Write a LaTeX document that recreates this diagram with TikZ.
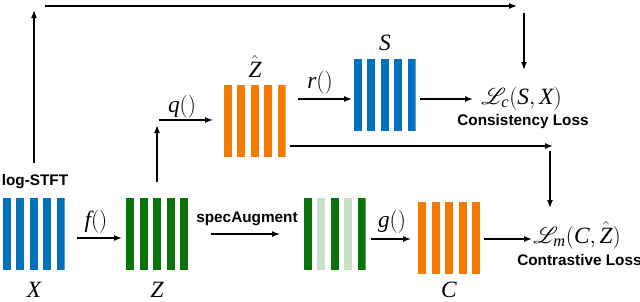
\documentclass[tikz,border=0pt]{standalone}
\usepackage{mathrsfs}
\usepackage{fontspec}
\setmainfont{Liberation Serif}
\newfontfamily\labelsans{Liberation Sans}
\usetikzlibrary{arrows.meta}
\definecolor{bankblue}{RGB}{0,114,188}
\definecolor{bankgreen}{RGB}{10,115,10}
\definecolor{lightgreen}{RGB}{200,224,200}
\definecolor{bankorange}{RGB}{245,122,0}
\tikzset{
  bank/.style 2 args={inner sep=0pt, outer sep=0pt, minimum width=46.5pt, minimum height=54pt,
    path picture={\foreach \i/\c in {0/#1,1/#2,2/#1,3/#2,4/#1}
      \fill[\c] ([xshift=\i*10.125pt]path picture bounding box.south west) rectangle ++(6pt,54pt);}},
  mlab/.style={font=\fontsize{17.5}{20}\selectfont, inner sep=0pt, anchor=base},
  slab/.style={font=\labelsans\bfseries\fontsize{11.5}{13}\selectfont, inner sep=0pt},
  arr/.style={line width=1.1pt, -{Latex[length=6pt,width=4.5pt]}}
}
\begin{document}
\begin{tikzpicture}[x=0.75pt,y=-0.75pt]
\useasboundingbox (0,0) rectangle (640,301);
% banks
\node[bank={bankblue}{bankblue}] (X) at (33.5,234) {};
\node[bank={bankgreen}{bankgreen}] (Z) at (157,234) {};
\node[bank={bankgreen}{lightgreen}] (A) at (334.5,234) {};
\node[bank={bankorange}{bankorange}] (C) at (449,238) {};
\node[bank={bankorange}{bankorange}] (Zh) at (254.5,120.5) {};
\node[bank={bankblue}{bankblue}] (S) at (384.5,95) {};
% labels
\node[mlab] (Xl) at (34,297) {$\mathit{X}$};
\node[mlab] (Zl) at (157,297) {$\mathit{Z}$};
\node[mlab] (Cl) at (449,297) {$\mathit{C}$};
\node[mlab] (Zhl) at (255,77) {$\hat{\mathit{Z}}$};
\node[mlab] (Sl) at (385,50) {$\mathit{S}$};
\node[mlab] (fl) at (96,227) {$\mathit{f}()$};
\node[mlab] (ql) at (182,112) {$\mathit{q}()$};
\node[mlab] (rl) at (320,88) {$\mathit{r}()$};
\node[mlab] (gl) at (392,227) {$\mathit{g}()$};
\node[slab] (stft) at (35,182) {log-STFT};
\node[slab] (spec) at (247,219) {specAugment};
\node[mlab, anchor=base west] (Lc) at (481,104) {$\mathscr{L}_{\mathit{c}}(\mathit{S},\mathit{X})$};
\node[slab] (cons) at (523,122) {Consistency Loss};
\node[mlab, anchor=base west] (Lm) at (533,243) {$\mathscr{L}_{\mathit{m}}(\mathit{C},\hat{\mathit{Z}})$};
\node[slab, anchor=west] (contr) at (517,260) {Contrastive Loss};
% coordinates
\coordinate (a1) at (34,163); \coordinate (a2) at (34,10);
\coordinate (t1) at (45,6); \coordinate (t2) at (517,6);
\coordinate (d1) at (524,13); \coordinate (d2) at (524,70);
\coordinate (z1) at (157,182); \coordinate (z2) at (157,125);
\coordinate (q1) at (159,120); \coordinate (q2) at (213,120);
\coordinate (r1) at (298,99); \coordinate (r2) at (352,99);
\coordinate (s1) at (420,99); \coordinate (s2) at (473,99);
\coordinate (h1) at (290,146); \coordinate (h2) at (553,146);
\coordinate (e1) at (550,151); \coordinate (e2) at (550,208);
\coordinate (f1) at (77,238); \coordinate (f2) at (122,238);
\coordinate (p1) at (211,234); \coordinate (p2) at (280,234);
\coordinate (g1) at (371,239); \coordinate (g2) at (411,239);
\coordinate (c1) at (484,239); \coordinate (c2) at (532,239);
% connectors
\draw[arr] (a1) -- (a2);
\draw[arr] (t1) -- (t2);
\draw[arr] (d1) -- (d2);
\draw[arr] (z1) -- (z2);
\draw[arr] (q1) -- (q2);
\draw[arr] (r1) -- (r2);
\draw[arr] (s1) -- (s2);
\draw[arr] (h1) -- (h2);
\draw[arr] (e1) -- (e2);
\draw[arr] (f1) -- (f2);
\draw[arr] (p1) -- (p2);
\draw[arr] (g1) -- (g2);
\draw[arr] (c1) -- (c2);
\end{tikzpicture}
\end{document}
